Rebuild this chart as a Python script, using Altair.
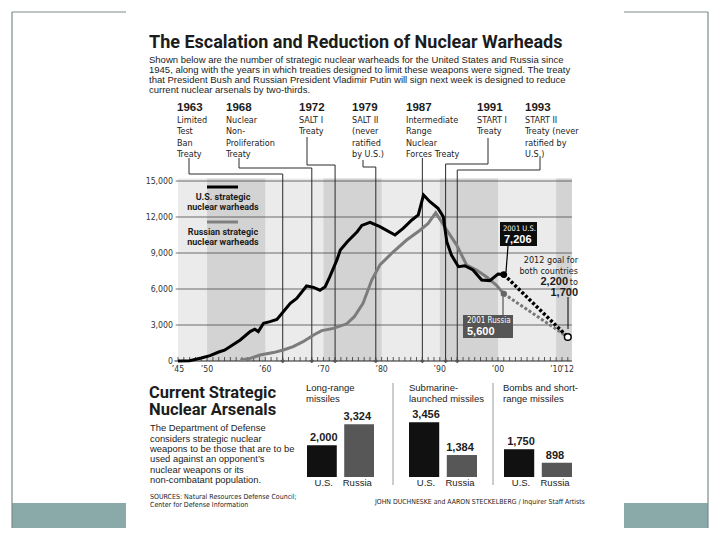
import altair as alt
import pandas as pd

# ---------------- data ----------------
us_years = [1945, 1947, 1949, 1950.5, 1952, 1953, 1955.7, 1957.4, 1958.2, 1958.8, 1959.7,
            1960.8, 1962, 1963.1, 1964.3, 1965.4, 1967.1, 1968.3, 1969.4, 1970.3, 1971.1,
            1972.3, 1972.9, 1974.1, 1975.8, 1976.6, 1978, 1979.7, 1982.3, 1983.7, 1985.2,
            1986.3, 1987.2, 1988.3, 1989.7, 1990.6, 1991.2, 1992, 1993.2, 1994.3, 1995.7,
            1997.2, 1998.6, 2000, 2001]
us_warheads = [0, 30, 250, 450, 750, 900, 1750, 2450, 2650, 2450, 3150,
               3280, 3470, 4100, 4800, 5220, 6250, 6140, 5900, 6190, 7025,
               8400, 9250, 9940, 10770, 11300, 11550, 11190, 10500, 11050, 11750,
               12170, 13830, 13275, 12720, 12025, 9940, 8830, 7860, 7940, 7580,
               6750, 6700, 7250, 7206]
ru_years = [1955.7, 1957.4, 1959.1, 1961.4, 1963.1, 1964.8, 1966.5, 1968.3, 1969.7, 1971.7,
            1974, 1975.3, 1976.8, 1978.3, 1979.7, 1982, 1984.3, 1986.6, 1988, 1989.3,
            1991.2, 1992.9, 1994.6, 1996.3, 1998, 1999.7, 2001]
ru_warheads = [80, 220, 500, 700, 920, 1200, 1610, 2170, 2530, 2720,
               3100, 3690, 4800, 6750, 8000, 9100, 10080, 10900, 11470, 12360,
               10900, 9660, 8000, 7580, 7025, 6330, 5600]
proj_years = [2001, 2012]
us_proj = [7206, 2000]
ru_proj = [5600, 2000]
goal_year = [2012]
goal_value = [2000]

treaty_years = [1963, 1968, 1972, 1979, 1987, 1991, 1993]
treaty_lines = [
    ["Limited", "Test", "Ban", "Treaty"],
    ["Nuclear", "Non-", "Proliferation", "Treaty"],
    ["SALT I", "Treaty"],
    ["SALT II", "(never", "ratified", "by U.S.)"],
    ["Intermediate", "Range", "Nuclear", "Forces Treaty"],
    ["START I", "Treaty"],
    ["START II", "Treaty (never", "ratified by", "U.S.)"],
]

y_ticks = [0, 3000, 6000, 9000, 12000, 15000]
y_tick_labels = ["0", "3,000", "6,000", "9,000", "12,000", "15,000"]
x_tick_years = [1945, 1950, 1960, 1970, 1980, 1990, 2000, 2010, 2012]
x_tick_labels = ["\u201945", "\u201950", "\u201960", "\u201970", "\u201980", "\u201990",
                 "\u201900", "\u201910", "\u201912"]
decade_band_start = [1950, 1970, 1990, 2010]
decade_band_end = [1960, 1980, 2000, 2012.7]

arsenal_groups = [["Long-range", "missiles"],
                  ["Submarine-", "launched missiles"],
                  ["Bombs and short-", "range missiles"]]
arsenal_countries = ["U.S.", "Russia"]
arsenal_us = [2000, 3456, 1750]
arsenal_ru = [3324, 1384, 898]

# ---------------- layout (page pixels) ----------------
M = 8  # page margin
W, H = 704, 522
XS = alt.Scale(domain=[1945, 2012], range=[178 - M, 567.8 - M], nice=False, zero=False)
YS = alt.Scale(domain=[0, 15000], range=[361 - M, 181 - M], nice=False, zero=False)
BY = alt.Scale(domain=[0, 4000], range=[477 - M, 477 - M - 63.5], nice=False, zero=False)
group_ranges = [[307, 374], [409, 477], [504, 572]]
group_header_x = [306, 409, 503]

SANS = "Liberation Sans"
HEAD = "Roboto"
COND = "'Noto Sans Condensed', 'DejaVu Sans Condensed', 'Liberation Sans', sans-serif"
INK = "#1c1c1c"


def px_to_year(px):
    return 1945 + (px - 178) / (567.8 - 178) * 67


def text_layer(rows, size, weight="normal", font=SANS, align="left", color=INK,
               baseline="middle"):
    df = pd.DataFrame(rows, columns=["x", "y", "t"])
    df["x"] = df["x"] - M
    df["y"] = df["y"] - M
    return alt.Chart(df).mark_text(
        fontSize=size, fontWeight=weight, font=font, align=align,
        baseline=baseline, color=color
    ).encode(
        x=alt.X("x:Q", scale=None), y=alt.Y("y:Q", scale=None), text="t:N"
    )


def seg_layer(rows, color, width, dash=None):
    df = pd.DataFrame(rows, columns=["x", "y", "x2", "y2"]) - M
    kw = dict(color=color, strokeWidth=width)
    if dash:
        kw["strokeDash"] = dash
    return alt.Chart(df).mark_rule(**kw).encode(
        x=alt.X("x:Q", scale=None), y=alt.Y("y:Q", scale=None),
        x2="x2:Q", y2="y2:Q")


def rect_layer(rows, color):
    df = pd.DataFrame(rows, columns=["x", "y", "x2", "y2"]) - M
    return alt.Chart(df).mark_rect(color=color).encode(
        x=alt.X("x:Q", scale=None), y=alt.Y("y:Q", scale=None),
        x2="x2:Q", y2="y2:Q")


layers = []

# ---- slide frame ----
layers.append(rect_layer([[12, 503, 126, 528], [624, 503, 708, 528]], "#89aaa8"))
layers.append(seg_layer([[12, 12, 12, 528], [12, 12, 126, 12],
                         [624, 12, 708, 12], [708, 12, 708, 528]], "#7d8c8c", 1.2))

# ---- title and intro ----
layers.append(text_layer([[149, 43, "The Escalation and Reduction of Nuclear Warheads"]],
                         18, "bold", HEAD))
layers.append(text_layer([
    [149, 60, "Shown below are the number of strategic nuclear warheads for the United States and Russia since"],
    [149, 70, "1945, along with the years in which treaties designed to limit these weapons were signed. The treaty"],
    [149, 80, "that President Bush and Russian President Vladimir Putin will sign next week is designed to reduce"],
    [149, 90, "current nuclear arsenals by two-thirds."],
], 9.5, "normal", SANS))

# ---- treaty labels ----
label_x = [177, 226, 299, 352, 406, 477, 525]
year_rows, line_rows = [], []
for lx, yr, lines in zip(label_x, treaty_years, treaty_lines):
    year_rows.append([lx, 108, str(yr)])
    for i, ln in enumerate(lines):
        line_rows.append([lx, 120 + i * 11.3, ln])
layers.append(text_layer(year_rows, 11.5, "bold", SANS))
layers.append(text_layer(line_rows, 9, "normal", COND))

# ---- plot background and decade bands ----
bg_df = pd.DataFrame({"a": [1945], "b": [2012.7], "lo": [0], "hi": [15200]})
layers.append(alt.Chart(bg_df).mark_rect(color="#ebebeb").encode(
    x=alt.X("a:Q", scale=XS, axis=None), x2="b:Q",
    y=alt.Y("lo:Q", scale=YS, axis=None), y2="hi:Q"))
band_df = pd.DataFrame({"a": decade_band_start, "b": decade_band_end,
                        "lo": [0] * 4, "hi": [15200] * 4})
layers.append(alt.Chart(band_df).mark_rect(color="#d3d3d3").encode(
    x=alt.X("a:Q", scale=XS, axis=None), x2="b:Q",
    y=alt.Y("lo:Q", scale=YS, axis=None), y2="hi:Q"))

# ---- gridlines ----
grid_df = pd.DataFrame({"v": y_ticks[1:], "a": [1944.6] * 5, "b": [2012.7] * 5})
layers.append(alt.Chart(grid_df).mark_rule(color="#4a4a4a", strokeWidth=0.8).encode(
    x=alt.X("a:Q", scale=XS, axis=None), x2="b:Q",
    y=alt.Y("v:Q", scale=YS, axis=None)))

# ---- y tick labels ----
ylab_df = pd.DataFrame({"v": y_ticks, "t": y_tick_labels})
layers.append(alt.Chart(ylab_df).mark_text(
    align="right", baseline="middle", fontSize=8.7, font=COND, color="#333").encode(
    x=alt.value(173 - M), y=alt.Y("v:Q", scale=YS, axis=None), text="t:N"))

# ---- treaty connectors ----
treaty_top = [174, 168, 165, 167, 158, 164, 170]
tl_df = pd.DataFrame({"year": treaty_years,
                      "top": [t - M for t in treaty_top],
                      "bot": [361 - M] * 7})
layers.append(alt.Chart(tl_df).mark_rule(color="#2a2a2a", strokeWidth=1).encode(
    x=alt.X("year:Q", scale=XS, axis=None),
    y=alt.Y("top:Q", scale=None), y2="bot:Q"))
stem_x = [189, 239, 307, 363, None, 488, 540]
stem_top = [158, 158, 137, 160, None, 138, 157]
h_rows = []
v_rows = []
for sx, st, tt, yr in zip(stem_x, stem_top, treaty_top, treaty_years):
    if sx is None:
        continue
    v_rows.append([sx, st, sx, tt])
    h_rows.append({"a": px_to_year(sx), "b": yr, "y": tt - M})
layers.append(seg_layer(v_rows, "#2a2a2a", 1))
layers.append(alt.Chart(pd.DataFrame(h_rows)).mark_rule(color="#2a2a2a", strokeWidth=1).encode(
    x=alt.X("a:Q", scale=XS, axis=None), x2="b:Q", y=alt.Y("y:Q", scale=None)))

# ---- x axis ----
axis_df = pd.DataFrame({"a": [1944.4], "b": [2012.7]})
layers.append(alt.Chart(axis_df).mark_rule(color="#222", strokeWidth=1.2).encode(
    x=alt.X("a:Q", scale=XS, axis=None), x2="b:Q", y=alt.value(361 - M)))
minor_df = pd.DataFrame({"year": list(range(1945, 2013))})
layers.append(alt.Chart(minor_df).mark_rule(color="#333", strokeWidth=0.8).encode(
    x=alt.X("year:Q", scale=XS, axis=None), y=alt.value(361 - M), y2=alt.value(357 - M)))
xlab_df = pd.DataFrame({"year": x_tick_years, "t": x_tick_labels})
layers.append(alt.Chart(xlab_df).mark_text(
    align="center", baseline="middle", fontSize=8.7, font=COND, color="#333").encode(
    x=alt.X("year:Q", scale=XS, axis=None), y=alt.value(369 - M), text="t:N"))
tdot_df = pd.DataFrame({"year": treaty_years, "v": [0] * 7})
layers.append(alt.Chart(tdot_df).mark_point(
    shape="diamond", filled=True, color="#555", size=22, opacity=1).encode(
    x=alt.X("year:Q", scale=XS, axis=None), y=alt.Y("v:Q", scale=YS, axis=None)))

# ---- data lines ----
ru_df = pd.DataFrame({"year": ru_years, "v": ru_warheads})
us_df = pd.DataFrame({"year": us_years, "v": us_warheads})
layers.append(alt.Chart(ru_df).mark_line(color="#7c7c7c", strokeWidth=3).encode(
    x=alt.X("year:Q", scale=XS, axis=None), y=alt.Y("v:Q", scale=YS, axis=None)))
layers.append(alt.Chart(us_df).mark_line(color="#000", strokeWidth=3).encode(
    x=alt.X("year:Q", scale=XS, axis=None), y=alt.Y("v:Q", scale=YS, axis=None)))

rp_df = pd.DataFrame({"year": proj_years, "v": ru_proj})
up_df = pd.DataFrame({"year": proj_years, "v": us_proj})
layers.append(alt.Chart(rp_df).mark_line(color="#777", strokeWidth=3, strokeDash=[3, 2]).encode(
    x=alt.X("year:Q", scale=XS, axis=None), y=alt.Y("v:Q", scale=YS, axis=None)))
layers.append(alt.Chart(up_df).mark_line(color="#000", strokeWidth=3.5, strokeDash=[3, 2]).encode(
    x=alt.X("year:Q", scale=XS, axis=None), y=alt.Y("v:Q", scale=YS, axis=None)))

# ---- annotation connectors ----
layers.append(seg_layer([[508, 246, 506, 272]], "#000", 1.2))
layers.append(seg_layer([[503, 297, 503, 315]], "#555", 1.2))
layers.append(seg_layer([[568, 297, 568, 329]], "#000", 1))

# ---- points ----
layers.append(alt.Chart(pd.DataFrame({"year": [proj_years[0]], "v": [us_proj[0]]})).mark_circle(
    color="#000", size=45, opacity=1).encode(
    x=alt.X("year:Q", scale=XS, axis=None), y=alt.Y("v:Q", scale=YS, axis=None)))
layers.append(alt.Chart(pd.DataFrame({"year": [proj_years[0]], "v": [ru_proj[0]]})).mark_circle(
    color="#666", size=40, opacity=1).encode(
    x=alt.X("year:Q", scale=XS, axis=None), y=alt.Y("v:Q", scale=YS, axis=None)))
layers.append(alt.Chart(pd.DataFrame({"year": goal_year, "v": goal_value})).mark_point(
    shape="circle", filled=True, fill="white", stroke="#000", strokeWidth=1.5, size=45, opacity=1).encode(
    x=alt.X("year:Q", scale=XS, axis=None), y=alt.Y("v:Q", scale=YS, axis=None)))

# ---- annotation boxes ----
layers.append(rect_layer([[500, 222, 537, 246]], "#0d0d0d"))
layers.append(rect_layer([[463, 315, 513, 338]], "#555555"))
layers.append(text_layer([[503, 228.5, "2001 U.S."]], 7.5, "normal", COND, color="white"))
layers.append(text_layer([[467, 321, "2001 Russia"]], 8, "normal", COND, color="white"))
layers.append(text_layer([[504, 240, "7,206"], [467, 332, "5,600"]],
                         11, "bold", SANS, color="white"))
layers.append(text_layer([[578, 260, "2012 goal for"], [578, 270.5, "both countries"],
                          [578, 282, "to"]], 9, "normal", COND, align="right"))
layers.append(text_layer([[568, 282, "2,200"], [578, 293, "1,700"]],
                         11, "bold", SANS, align="right"))

# ---- legend ----
layers.append(seg_layer([[207, 187, 238, 187]], "#000", 3))
layers.append(seg_layer([[207, 222, 238, 222]], "#808080", 3))
layers.append(text_layer([[223, 197, "U.S. strategic"], [223, 207, "nuclear warheads"],
                          [223, 232, "Russian strategic"], [223, 242, "nuclear warheads"]],
                         9, "bold", HEAD, align="center"))

# ---- bottom section text ----
layers.append(text_layer([[149, 392.5, "Current Strategic"], [149, 410, "Nuclear Arsenals"]],
                         16.5, "bold", HEAD))
layers.append(text_layer([
    [150, 428, "The Department of Defense"],
    [150, 438.5, "considers strategic nuclear"],
    [150, 449, "weapons to be those that are to be"],
    [150, 459, "used against an opponent\u2019s"],
    [150, 469.5, "nuclear weapons or its"],
    [150, 480, "non-combatant population."],
], 9.4, "normal", SANS))
layers.append(text_layer([
    [150, 496.5, "SOURCES: Natural Resources Defense Council;"],
    [150, 505, "Center for Defense Information"],
], 7, "normal", COND))
layers.append(text_layer([[375, 502, "JOHN DUCHNESKE and AARON STECKELBERG / Inquirer Staff Artists"]],
                         6.9, "normal", COND))

# ---- arsenal bar groups ----
hdr_rows = []
for hx, lines in zip(group_header_x, arsenal_groups):
    hdr_rows.append([hx, 388, lines[0]])
    hdr_rows.append([hx, 398.5, lines[1]])
layers.append(text_layer(hdr_rows, 9.5, "normal", SANS))
layers.append(seg_layer([[393, 383, 393, 485], [493, 383, 493, 485]], "#9a9a9a", 1))

for g, (r0, r1) in enumerate(group_ranges):
    bx = alt.Scale(domain=arsenal_countries, range=[r0 - M, r1 - M],
                   paddingInner=0.2, paddingOuter=0)
    gdf = pd.DataFrame({"country": arsenal_countries,
                        "v": [arsenal_us[g], arsenal_ru[g]]})
    layers.append(alt.Chart(gdf).mark_bar().encode(
        x=alt.X("country:N", scale=bx, axis=None),
        y=alt.Y("v:Q", scale=BY, axis=None),
        color=alt.Color("country:N", scale=alt.Scale(domain=arsenal_countries,
                                                     range=["#111111", "#575757"]),
                        legend=None)))
    layers.append(alt.Chart(gdf).mark_text(
        baseline="middle", dy=-7, fontSize=11, fontWeight="bold", font=SANS, color=INK).encode(
        x=alt.X("country:N", scale=bx, axis=None),
        y=alt.Y("v:Q", scale=BY, axis=None),
        text=alt.Text("v:Q", format=",d")))
    layers.append(alt.Chart(gdf).mark_text(
        baseline="middle", fontSize=9.5, font=SANS, color=INK).encode(
        x=alt.X("country:N", scale=bx, axis=None),
        y=alt.value(483 - M),
        text="country:N"))

chart = alt.layer(*layers).resolve_scale(
    x="independent", y="independent", color="independent"
).properties(
    width=W, height=H, padding=0, autosize="none", background="white"
).configure_view(stroke=None)

chart.save("out.html", embed_options={"renderer": "svg", "actions": False})
